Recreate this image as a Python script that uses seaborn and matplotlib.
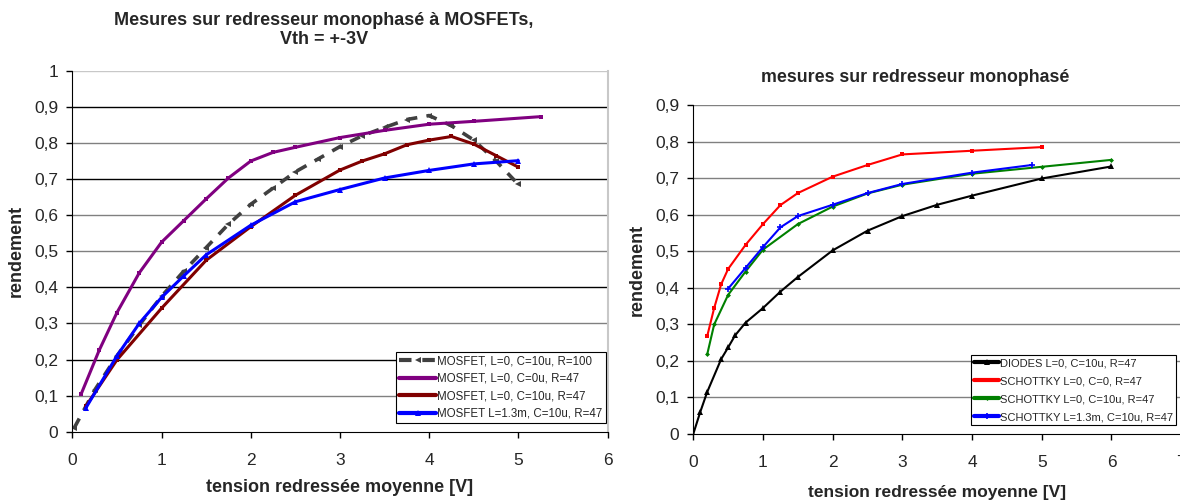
import matplotlib
matplotlib.use("Agg")
import matplotlib.pyplot as plt
from matplotlib.ticker import FuncFormatter, MultipleLocator
import seaborn as sns

# left chart: MOSFET rectifier
mos100_x = [0.02, 0.25, 0.5, 0.75, 1.0, 1.25, 1.5, 1.75, 2.0, 2.25, 2.5, 2.75, 3.0, 3.25, 3.5, 3.75, 4.0, 4.25, 4.5, 4.75, 5.0]
mos100_y = [0.01, 0.115, 0.21, 0.295, 0.375, 0.445, 0.51, 0.575, 0.63, 0.675, 0.72, 0.755, 0.79, 0.82, 0.843, 0.865, 0.876, 0.848, 0.808, 0.75, 0.685]

mos_c0_x = [0.1, 0.3, 0.5, 0.75, 1.0, 1.25, 1.5, 1.75, 2.0, 2.25, 2.5, 3.0, 3.5, 4.0, 4.5, 5.25]
mos_c0_y = [0.105, 0.225, 0.33, 0.44, 0.525, 0.585, 0.645, 0.703, 0.75, 0.774, 0.788, 0.815, 0.835, 0.852, 0.86, 0.873]

mos_c10_x = [0.15, 0.5, 1.0, 1.5, 2.0, 2.5, 3.0, 3.25, 3.5, 3.75, 4.0, 4.25, 4.5, 4.75, 5.0]
mos_c10_y = [0.07, 0.199, 0.342, 0.475, 0.568, 0.655, 0.725, 0.75, 0.77, 0.795, 0.808, 0.818, 0.797, 0.765, 0.733]

mos_l13_x = [0.15, 0.5, 0.75, 1.0, 1.25, 1.5, 2.0, 2.5, 3.0, 3.5, 4.0, 4.5, 5.0]
mos_l13_y = [0.065, 0.21, 0.3, 0.372, 0.432, 0.49, 0.572, 0.637, 0.671, 0.703, 0.724, 0.742, 0.751]

left_labels = ["MOSFET, L=0, C=10u, R=100", "MOSFET, L=0, C=0u, R=47",
               "MOSFET, L=0, C=10u, R=47", "MOSFET L=1.3m, C=10u, R=47"]

# right chart: diodes / schottky
diode_x = [0, 0.1, 0.2, 0.4, 0.5, 0.6, 0.75, 1.0, 1.25, 1.5, 2.0, 2.5, 3.0, 3.5, 4.0, 5.0, 6.0]
diode_y = [0, 0.06, 0.115, 0.205, 0.237, 0.27, 0.305, 0.345, 0.39, 0.43, 0.503, 0.557, 0.597, 0.628, 0.653, 0.70, 0.733]

sch_c0_x = [0.2, 0.3, 0.4, 0.5, 0.75, 1.0, 1.25, 1.5, 2.0, 2.5, 3.0, 4.0, 5.0]
sch_c0_y = [0.268, 0.345, 0.41, 0.452, 0.518, 0.575, 0.627, 0.66, 0.705, 0.737, 0.766, 0.776, 0.786]

sch_c10_x = [0.2, 0.3, 0.5, 0.75, 1.0, 1.5, 2.0, 2.5, 3.0, 4.0, 5.0, 6.0]
sch_c10_y = [0.218, 0.3, 0.381, 0.445, 0.505, 0.575, 0.623, 0.659, 0.683, 0.713, 0.732, 0.751]

sch_l13_x = [0.5, 0.75, 1.0, 1.25, 1.5, 2.0, 2.5, 3.0, 4.0, 4.86]
sch_l13_y = [0.398, 0.455, 0.512, 0.566, 0.597, 0.628, 0.66, 0.685, 0.716, 0.737]

right_labels = ["DIODES L=0, C=10u, R=47", "SCHOTTKY L=0, C=0, R=47",
                "SCHOTTKY L=0, C=10u, R=47", "SCHOTTKY L=1.3m, C=10u, R=47"]

sns.set_style("white")
plt.rcParams["font.family"] = ["Liberation Sans", "DejaVu Sans"]

fig = plt.figure(figsize=(11.8, 5.04), dpi=100)
ax1 = fig.add_axes([0.0613, 0.1435, 0.4536, 0.716])
ax2 = fig.add_axes([0.5875, 0.1389, 0.4135, 0.6518])

comma = FuncFormatter(lambda v, p: ("%g" % round(v, 2)).replace(".", ","))

# left chart
sns.lineplot(x=mos100_x, y=mos100_y, ax=ax1, sort=False, estimator=None, color="#404040",
             linewidth=2.6, marker="<", markersize=4, markeredgewidth=0, label=left_labels[0])
ax1.lines[-1].set_dashes([3, 2.6])
sns.lineplot(x=mos_c0_x, y=mos_c0_y, ax=ax1, sort=False, estimator=None, color="#800080",
             linewidth=2.2, marker="s", markersize=3.5, markeredgewidth=0, label=left_labels[1])
sns.lineplot(x=mos_c10_x, y=mos_c10_y, ax=ax1, sort=False, estimator=None, color="#800000",
             linewidth=2.2, marker="s", markersize=3.5, markeredgewidth=0, label=left_labels[2])
sns.lineplot(x=mos_l13_x, y=mos_l13_y, ax=ax1, sort=False, estimator=None, color="#0000FF",
             linewidth=2.2, marker="^", markersize=5, markeredgewidth=0, label=left_labels[3])

ax1.set_xlim(0, 6)
ax1.set_ylim(0, 1)
ax1.yaxis.set_major_locator(MultipleLocator(0.1))
ax1.xaxis.set_major_locator(MultipleLocator(1))
grid_cols = ["#808080", "#000000", "#808080", "#000000", "#808080", "#808080",
             "#000000", "#808080", "#000000", "#c8c8c8"]
for yv, gc in zip([0.1 * i for i in range(1, 11)], grid_cols):
    ax1.axhline(yv, color=gc, linewidth=1, zorder=0)

# right chart
sns.lineplot(x=diode_x, y=diode_y, ax=ax2, sort=False, estimator=None, color="#000000",
             linewidth=1.5, marker="^", markersize=4, markeredgewidth=0, label=right_labels[0])
sns.lineplot(x=sch_c0_x, y=sch_c0_y, ax=ax2, sort=False, estimator=None, color="#FF0000",
             linewidth=1.5, marker="s", markersize=3.5, markeredgewidth=0, label=right_labels[1])
sns.lineplot(x=sch_c10_x, y=sch_c10_y, ax=ax2, sort=False, estimator=None, color="#008000",
             linewidth=1.5, marker="D", markersize=2.5, markeredgewidth=0, label=right_labels[2])
sns.lineplot(x=sch_l13_x, y=sch_l13_y, ax=ax2, sort=False, estimator=None, color="#0000FF",
             linewidth=1.5, marker="+", markersize=4, markeredgewidth=1.2,
             markeredgecolor="#0000FF", label=right_labels[3])

ax2.set_xlim(0, 7)
ax2.set_ylim(0, 0.9)
ax2.yaxis.set_major_locator(MultipleLocator(0.1))
ax2.xaxis.set_major_locator(MultipleLocator(1))
for i in range(1, 10):
    ax2.axhline(0.1 * i, color="#808080", linewidth=1, zorder=0)

for ax in (ax1, ax2):
    ax.yaxis.set_major_formatter(comma)
    ax.tick_params(axis="both", which="major", direction="out", length=4, width=1,
                   color="black", labelsize=12.5, left=True, bottom=True, pad=6)
    ax.tick_params(axis="x", pad=11)
    ax.spines["left"].set_color("black")
    ax.spines["bottom"].set_color("black")
    ax.spines["top"].set_visible(False)
    ax.set_ylabel("rendement", fontsize=13, fontweight="bold")

ax1.set_xlabel("tension redressée moyenne [V]", fontsize=13, fontweight="bold")
ax2.set_xlabel("tension redressée moyenne [V]", fontsize=12.5, fontweight="bold")

ax1.spines["right"].set_color("#c8c8c8")
ax1.spines["right"].set_linewidth(1.5)
ax2.spines["right"].set_visible(False)
ax1.yaxis.set_label_coords(-0.088, 0.5)
ax2.yaxis.set_label_coords(-0.097, 0.5)
ax1.xaxis.set_label_coords(0.5, -0.13)
ax2.xaxis.set_label_coords(0.5, -0.155)

fig.text(0.2746, 0.976, "Mesures sur redresseur monophasé à MOSFETs,\nVth = +-3V",
         ha="center", va="top", fontsize=13, fontweight="bold", linespacing=1.15)
fig.text(0.776, 0.847, "mesures sur redresseur monophasé",
         ha="center", va="center", fontsize=12.8, fontweight="bold")

leg_kw = dict(frameon=True, fancybox=False, framealpha=1, edgecolor="black",
              handletextpad=0.1, borderpad=0.3, borderaxespad=0, loc="upper left",
              bbox_transform=fig.transFigure)
leg1 = ax1.legend(bbox_to_anchor=(0.3353, 0.302), fontsize=8.3, handlelength=3.2,
                  labelspacing=0.48, **leg_kw)
leg2 = ax2.legend(bbox_to_anchor=(0.8229, 0.296), fontsize=8, handlelength=2.2,
                  labelspacing=0.72, **leg_kw)
for leg in (leg1, leg2):
    leg.get_frame().set_linewidth(0.8)
    for h in leg.legend_handles:
        h.set_linewidth(3)

fig.savefig("out.png", dpi=100)
